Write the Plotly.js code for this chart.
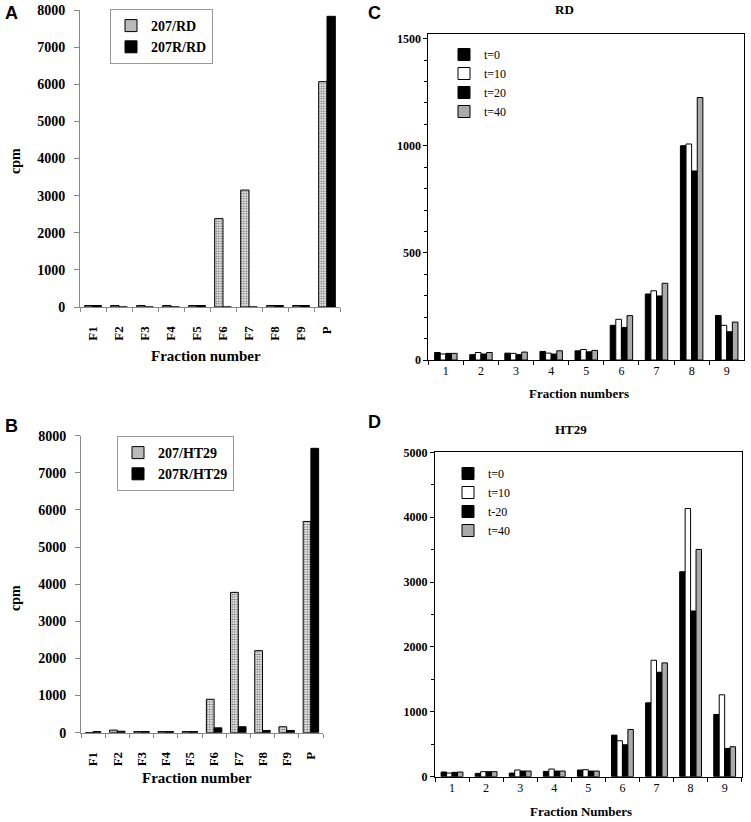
<!DOCTYPE html>
<html>
<head>
<meta charset="utf-8">
<script src="https://cdn.plot.ly/plotly-3.0.1.min.js"></script>
<style>html,body{margin:0;padding:0;background:#fff;}#chart{width:751px;height:822px;}</style>
</head>
<body>
<div id="chart"></div>
<script>
// ---- Data ----
const fractionsAB = ['F1','F2','F3','F4','F5','F6','F7','F8','F9','P'];
const rd207  = [40, 40, 40, 40, 40, 2380, 3150, 40, 40, 6070];
const rd207R = [40, 0, 0, 0, 40, 0, 0, 40, 40, 7830];
const ht207  = [0, 70, 30, 30, 30, 900, 3780, 2210, 160, 5690];
const ht207R = [30, 40, 30, 30, 30, 130, 160, 60, 60, 7660];

const fractionsCD = ['1','2','3','4','5','6','7','8','9'];
const rdT0  = [35, 25, 32, 40, 43, 162, 308, 1000, 208];
const rdT10 = [28, 35, 31, 32, 49, 190, 323, 1008, 162];
const rdT20 = [31, 28, 25, 28, 38, 152, 299, 882, 132];
const rdT40 = [31, 35, 37, 43, 45, 207, 358, 1225, 177];

const htT0  = [72, 51, 56, 82, 103, 641, 1138, 3159, 959];
const htT10 = [56, 77, 103, 118, 108, 554, 1795, 4133, 1262];
const htT20 = [67, 77, 87, 87, 87, 492, 1610, 2554, 436];
const htT40 = [72, 77, 87, 87, 87, 728, 1754, 3503, 462];

const seriesNamesA = ['207/RD', '207R/RD'];
const seriesNamesB = ['207/HT29', '207R/HT29'];
const seriesNamesC = ['t=0', 't=10', 't=20', 't=40'];
const seriesNamesD = ['t=0', 't=10', 't-20', 't=40'];

// ---- Styles ----
const W = 751, H = 822;
const px = v => v / W;
const py = v => 1 - v / H;
const SERIF = 'Liberation Serif';
const SANS = 'Liberation Sans';

const dotted = {color: '#e6e6e6', line: {color: '#000', width: 1},
  pattern: {shape: '.', fgcolor: '#666', bgcolor: '#eeeeee', size: 2.5, solidity: 0.4}};
const solid = {color: '#000', line: {color: '#000', width: 1}};
const tColors = ['#000', '#fff', '#000', '#aaaaaa'];

const traces = [];
function pairTrace(name, y, xa, ya, marker, leg) {
  return {type: 'bar', name: name, x: fractionsAB, y: y, xaxis: xa, yaxis: ya,
    marker: marker, legend: leg, hoverinfo: 'skip'};
}
traces.push(pairTrace(seriesNamesA[0], rd207, 'x', 'y', dotted, 'legend'));
traces.push(pairTrace(seriesNamesA[1], rd207R, 'x', 'y', solid, 'legend'));
traces.push(pairTrace(seriesNamesB[0], ht207, 'x2', 'y2', dotted, 'legend2'));
traces.push(pairTrace(seriesNamesB[1], ht207R, 'x2', 'y2', solid, 'legend2'));

[rdT0, rdT10, rdT20, rdT40].forEach((ys, i) => {
  traces.push({type: 'bar', name: seriesNamesC[i], x: fractionsCD, y: ys, xaxis: 'x3', yaxis: 'y3',
    marker: {color: tColors[i], line: {color: '#000', width: 1}}, legend: 'legend3', hoverinfo: 'skip'});
});
[htT0, htT10, htT20, htT40].forEach((ys, i) => {
  traces.push({type: 'bar', name: seriesNamesD[i], x: fractionsCD, y: ys, xaxis: 'x4', yaxis: 'y4',
    marker: {color: tColors[i], line: {color: '#000', width: 1}}, legend: 'legend4', hoverinfo: 'skip'});
});

function abX(domain, anchor) {
  return {domain: domain, anchor: anchor, type: 'category', showline: true, linecolor: '#888', linewidth: 1,
    ticks: 'outside', tickson: 'boundaries', ticklen: 4, tickcolor: '#888',
    tickangle: -90, ticklabelstandoff: 13,
    tickfont: {family: SERIF, size: 13, color: '#000', weight: 'bold'},
    showgrid: false, zeroline: false, fixedrange: true};
}
function abY(domain, anchor) {
  return {domain: domain, anchor: anchor, range: [0, 8000], dtick: 1000, showline: true,
    linecolor: '#888', linewidth: 1, ticks: 'outside', ticklen: 5, tickcolor: '#888',
    ticklabelstandoff: 6,
    tickfont: {family: SERIF, size: 14, color: '#000', weight: 'bold'},
    showgrid: false, zeroline: false, fixedrange: true};
}
function cdX(domain, anchor) {
  return {domain: domain, anchor: anchor, type: 'category', showline: true, mirror: true,
    linecolor: '#000', linewidth: 1, ticks: 'outside', tickson: 'boundaries', ticklen: 4,
    tickcolor: '#000', tickfont: {family: SERIF, size: 12, color: '#000'},
    showgrid: false, zeroline: false, fixedrange: true};
}
function cdY(domain, anchor, range, dtick, minorDtick) {
  return {domain: domain, anchor: anchor, range: range, dtick: dtick, showline: true, mirror: true,
    linecolor: '#000', linewidth: 1, ticks: 'outside', ticklen: 4, tickcolor: '#000',
    minor: {dtick: minorDtick, ticks: 'outside', ticklen: 3, tickcolor: '#000'},
    tickfont: {family: SERIF, size: 12, color: '#000', weight: 'bold'},
    showgrid: false, zeroline: false, fixedrange: true};
}

function note(text, x, y, size, extra) {
  return Object.assign({text: text, x: px(x), y: py(y), xref: 'paper', yref: 'paper',
    xanchor: 'center', yanchor: 'middle', showarrow: false,
    font: {family: SERIF, size: size, color: '#000', weight: 'bold'}}, extra || {});
}
function letter(text, x, y) {
  return note(text, x, y, 18, {xanchor: 'left', font: {family: SANS, size: 18, color: '#000', weight: 'bold'}});
}

const layout = {
  width: W, height: H,
  margin: {l: 0, r: 0, t: 0, b: 0},
  font: {family: SERIF, color: '#000'},
  paper_bgcolor: '#fff', plot_bgcolor: 'rgba(0,0,0,0)',
  barmode: 'group',
  showlegend: true,
  xaxis: abX([px(80), px(340)], 'y'),
  yaxis: abY([py(307), py(10)], 'x'),
  xaxis2: abX([px(81), px(323)], 'y2'),
  yaxis2: abY([py(732.7), py(435.7)], 'x2'),
  xaxis3: cdX([px(428.3), px(744.3)], 'y3'),
  yaxis3: cdY([py(360), py(34.3)], 'x3', [0, 1520], 500, 100),
  xaxis4: cdX([px(435), px(741.7)], 'y4'),
  yaxis4: cdY([py(776.7), py(452.3)], 'x4', [0, 5000], 1000, 500),
  bargap: 0.36, bargroupgap: 0,
  legend: {x: px(110), y: py(9), xanchor: 'left', yanchor: 'top', bgcolor: '#fff',
    bordercolor: '#999', borderwidth: 1, font: {family: SERIF, size: 14, color: '#000', weight: 'bold'},
    itemwidth: 30, traceorder: 'normal'},
  legend2: {x: px(117), y: py(436), xanchor: 'left', yanchor: 'top', bgcolor: '#fff',
    bordercolor: '#999', borderwidth: 1, font: {family: SERIF, size: 14, color: '#000', weight: 'bold'},
    itemwidth: 30, traceorder: 'normal'},
  legend3: {x: px(444), y: py(40), xanchor: 'left', yanchor: 'top', bgcolor: 'rgba(0,0,0,0)',
    borderwidth: 0, font: {family: SERIF, size: 12, color: '#000'}, itemwidth: 30, traceorder: 'normal'},
  legend4: {x: px(448), y: py(459), xanchor: 'left', yanchor: 'top', bgcolor: 'rgba(0,0,0,0)',
    borderwidth: 0, font: {family: SERIF, size: 12, color: '#000'}, itemwidth: 30, traceorder: 'normal'},
  annotations: [
    letter('A', 3, 13),
    letter('B', 3, 426),
    letter('C', 366, 13),
    letter('D', 366, 422),
    note('cpm', 15, 161, 14, {textangle: -90}),
    note('cpm', 15, 598, 14, {textangle: -90}),
    note('Fraction number', 206, 356, 15),
    note('Fraction number', 197, 778, 15),
    note('RD', 564, 9, 13),
    note('HT29', 571, 429, 13),
    note('Fraction numbers', 579, 393, 13),
    note('Fraction Numbers', 581, 811, 13)
  ]
};

Plotly.newPlot('chart', traces, layout, {staticPlot: true, displayModeBar: false});
</script>
</body>
</html>
